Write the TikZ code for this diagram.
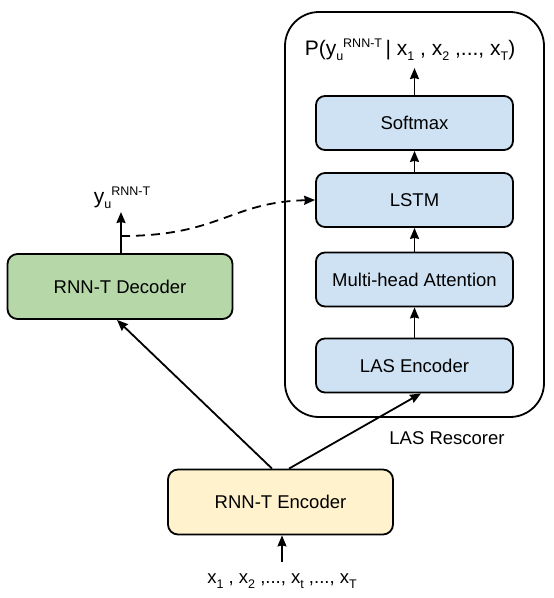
\documentclass[tikz,border=0pt]{standalone}
\usepackage{fontspec}
\setmainfont{Liberation Sans}
\usetikzlibrary{arrows, arrows.meta}
\definecolor{lasblue}{HTML}{CFE2F3}
\definecolor{decgreen}{HTML}{B6D7A8}
\definecolor{encyellow}{HTML}{FFF2CC}
\tikzstyle{lasbox} = [rectangle, rounded corners=9pt, minimum width=197pt, minimum height=54pt, text centered, draw=black, line width=1.8pt, fill=lasblue, font=\fontsize{18.5}{22}\selectfont]
\tikzstyle{rnnbox} = [rectangle, rounded corners=10pt, minimum width=225pt, minimum height=65pt, text centered, draw=black, line width=1.8pt, font=\fontsize{18.5}{22}\selectfont]
\tikzstyle{plaintext} = [font=\fontsize{18.5}{22}\selectfont, inner sep=0pt]
\tikzstyle{arrow} = [line width=1.8pt, -{Stealth[length=11pt, width=9pt, inset=1pt]}]
\newcommand{\sub}[1]{\raisebox{-5pt}{\fontsize{12.5}{14}\selectfont #1}}
\newcommand{\sups}[1]{\raisebox{8pt}{\fontsize{12.5}{14}\selectfont #1}}

\begin{document}
\begin{tikzpicture}[x=1pt, y=-1pt]
    \useasboundingbox (0,0) rectangle (554,598);
    % LAS rescorer frame
    \draw[line width=1.8pt, rounded corners=34pt] (285,12) rectangle (544,417);
    \node (rescorer) [plaintext] at (447,438) {LAS Rescorer};

    \node (softmax) [lasbox] at (414.5,123) {Softmax};
    \node (lstm)    [lasbox] at (414.5,200) {LSTM};
    \node (mha)     [lasbox] at (414.5,279.5) {Multi-head Attention};
    \node (lasenc)  [lasbox] at (414.5,365.5) {LAS Encoder};
    \node (prob) [plaintext, font=\fontsize{21}{24}\selectfont] at (410,50) {P(y\sub{u}\sups{RNN-T}\,| x\sub{1} , x\sub{2} ,..., x\sub{T})};

    \node (dec) [rnnbox, fill=decgreen] at (120,286.5) {RNN-T Decoder};
    \node (enc) [rnnbox, fill=encyellow] at (280.5,502) {RNN-T Encoder};
    \node (yu) [plaintext, font=\fontsize{21}{24}\selectfont] at (122,198) {y\sub{u}\sups{RNN-T}};
    \node (xs) [plaintext] at (282,581) {x\sub{1} , x\sub{2} ,..., x\sub{t} ,..., x\sub{T}};

    \coordinate (decout) at (121,212);
    \coordinate (dashstart) at (121,236);
    \coordinate (probin) at (414.5,68);
    \coordinate (xin) at (282,562);

    \draw [arrow] (softmax.north) -- (probin);
    \draw [arrow] (lstm.north) -- (softmax.south);
    \draw [arrow] (mha.north) -- (lstm.south);
    \draw [arrow] (lasenc.north) -- (mha.south);
    \draw [arrow] (dec.north -| decout) -- (decout);
    \draw [arrow, dash pattern=on 9pt off 6pt] (dashstart) .. controls (220,236) and (230,202) .. (lstm.west);
    \draw [arrow] ([xshift=-8.5pt]enc.north) -- ([xshift=-3pt]dec.south);
    \draw [arrow] ([xshift=8.5pt]enc.north) -- ([xshift=6.5pt]lasenc.south);
    \draw [arrow] (xin) -- (enc.south -| xin);
\end{tikzpicture}
\end{document}
